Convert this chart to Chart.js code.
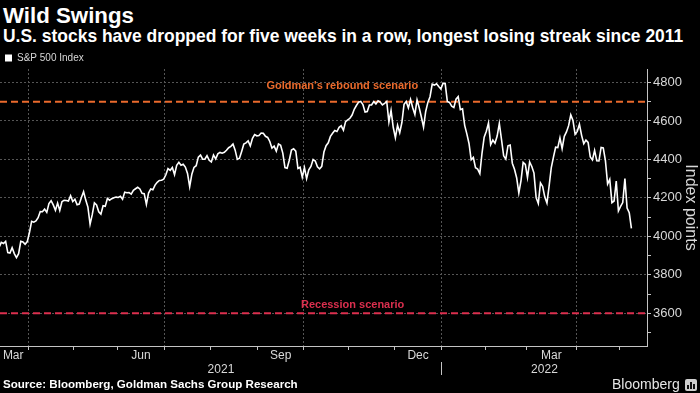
<!DOCTYPE html>
<html>
<head>
<meta charset="utf-8">
<script src="https://cdn.jsdelivr.net/npm/chart.js@4.4.1/dist/chart.umd.min.js"></script>
<style>
  html, body { margin: 0; padding: 0; background: #000; width: 700px; height: 393px; overflow: hidden; }
  body { position: relative; font-family: 'Liberation Sans', Arial, sans-serif; }
  .txt { position: absolute; white-space: nowrap; color: #fff; }
  #title { left: 3px; top: 5px; font-weight: bold; font-size: 22px; line-height: 22px; }
  #subtitle { left: 3px; top: 28px; font-weight: bold; font-size: 16px; line-height: 16px; }
  #source { left: 3px; top: 379px; font-weight: bold; font-size: 11px; line-height: 11px; }
  #brand { left: 612px; top: 377px; font-size: 14px; line-height: 14px; color: #e6e6e6; }
  #logo { position: absolute; left: 685px; top: 379px; width: 12px; height: 12px; border-radius: 2px;
          background:
            linear-gradient(#111,#111) 2px 6px/2px 4px no-repeat,
            linear-gradient(#111,#111) 5px 3px/2px 7px no-repeat,
            linear-gradient(#111,#111) 8px 5px/2px 5px no-repeat,
            #cfcfcf; }
  #wrap { position: absolute; left: 0; top: 48px; width: 700px; height: 345px; }
</style>
</head>
<body>
<div id="title" class="txt">Wild Swings</div>
<div id="subtitle" class="txt">U.S. stocks have dropped for five weeks in a row, longest losing streak since 2011</div>
<div id="wrap"><canvas id="chart" width="700" height="345"></canvas></div>
<div id="source" class="txt">Source: Bloomberg, Goldman Sachs Group Research</div>
<div id="brand" class="txt">Bloomberg</div>
<div id="logo"></div>
<script>
// ---------------- DATA ----------------
const seriesName = 'S&P 500 Index';

// Trading days shown on the chart (the x axis is a trading-day axis)
const dates = [
  "2021-03-12","2021-03-15","2021-03-16","2021-03-17","2021-03-18","2021-03-19","2021-03-22","2021-03-23","2021-03-24","2021-03-25","2021-03-26","2021-03-29","2021-03-30","2021-03-31",
  "2021-04-01","2021-04-05","2021-04-06","2021-04-07","2021-04-08","2021-04-09","2021-04-12","2021-04-13","2021-04-14","2021-04-15","2021-04-16","2021-04-19","2021-04-20","2021-04-21","2021-04-22","2021-04-23","2021-04-26","2021-04-27","2021-04-28","2021-04-29","2021-04-30",
  "2021-05-03","2021-05-04","2021-05-05","2021-05-06","2021-05-07","2021-05-10","2021-05-11","2021-05-12","2021-05-13","2021-05-14","2021-05-17","2021-05-18","2021-05-19","2021-05-20","2021-05-21","2021-05-24","2021-05-25","2021-05-26","2021-05-27","2021-05-28",
  "2021-06-01","2021-06-02","2021-06-03","2021-06-04","2021-06-07","2021-06-08","2021-06-09","2021-06-10","2021-06-11","2021-06-14","2021-06-15","2021-06-16","2021-06-17","2021-06-18","2021-06-21","2021-06-22","2021-06-23","2021-06-24","2021-06-25","2021-06-28","2021-06-29","2021-06-30",
  "2021-07-01","2021-07-02","2021-07-06","2021-07-07","2021-07-08","2021-07-09","2021-07-12","2021-07-13","2021-07-14","2021-07-15","2021-07-16","2021-07-19","2021-07-20","2021-07-21","2021-07-22","2021-07-23","2021-07-26","2021-07-27","2021-07-28","2021-07-29","2021-07-30",
  "2021-08-02","2021-08-03","2021-08-04","2021-08-05","2021-08-06","2021-08-09","2021-08-10","2021-08-11","2021-08-12","2021-08-13","2021-08-16","2021-08-17","2021-08-18","2021-08-19","2021-08-20","2021-08-23","2021-08-24","2021-08-25","2021-08-26","2021-08-27","2021-08-30","2021-08-31",
  "2021-09-01","2021-09-02","2021-09-03","2021-09-07","2021-09-08","2021-09-09","2021-09-10","2021-09-13","2021-09-14","2021-09-15","2021-09-16","2021-09-17","2021-09-20","2021-09-21","2021-09-22","2021-09-23","2021-09-24","2021-09-27","2021-09-28","2021-09-29","2021-09-30",
  "2021-10-01","2021-10-04","2021-10-05","2021-10-06","2021-10-07","2021-10-08","2021-10-11","2021-10-12","2021-10-13","2021-10-14","2021-10-15","2021-10-18","2021-10-19","2021-10-20","2021-10-21","2021-10-22","2021-10-25","2021-10-26","2021-10-27","2021-10-28","2021-10-29",
  "2021-11-01","2021-11-02","2021-11-03","2021-11-04","2021-11-05","2021-11-08","2021-11-09","2021-11-10","2021-11-11","2021-11-12","2021-11-15","2021-11-16","2021-11-17","2021-11-18","2021-11-19","2021-11-22","2021-11-23","2021-11-24","2021-11-26","2021-11-29","2021-11-30",
  "2021-12-01","2021-12-02","2021-12-03","2021-12-06","2021-12-07","2021-12-08","2021-12-09","2021-12-10","2021-12-13","2021-12-14","2021-12-15","2021-12-16","2021-12-17","2021-12-20","2021-12-21","2021-12-22","2021-12-23","2021-12-27","2021-12-28","2021-12-29","2021-12-30","2021-12-31",
  "2022-01-03","2022-01-04","2022-01-05","2022-01-06","2022-01-07","2022-01-10","2022-01-11","2022-01-12","2022-01-13","2022-01-14","2022-01-18","2022-01-19","2022-01-20","2022-01-21","2022-01-24","2022-01-25","2022-01-26","2022-01-27","2022-01-28","2022-01-31",
  "2022-02-01","2022-02-02","2022-02-03","2022-02-04","2022-02-07","2022-02-08","2022-02-09","2022-02-10","2022-02-11","2022-02-14","2022-02-15","2022-02-16","2022-02-17","2022-02-18","2022-02-22","2022-02-23","2022-02-24","2022-02-25","2022-02-28",
  "2022-03-01","2022-03-02","2022-03-03","2022-03-04","2022-03-07","2022-03-08","2022-03-09","2022-03-10","2022-03-11","2022-03-14","2022-03-15","2022-03-16","2022-03-17","2022-03-18","2022-03-21","2022-03-22","2022-03-23","2022-03-24","2022-03-25","2022-03-28","2022-03-29","2022-03-30","2022-03-31",
  "2022-04-01","2022-04-04","2022-04-05","2022-04-06","2022-04-07","2022-04-08","2022-04-11","2022-04-12","2022-04-13","2022-04-14","2022-04-18","2022-04-19","2022-04-20","2022-04-21","2022-04-22","2022-04-25","2022-04-26","2022-04-27","2022-04-28","2022-04-29",
  "2022-05-02","2022-05-03","2022-05-04","2022-05-05","2022-05-06","2022-05-09"
];

const closes = [
  3943.34,3968.94,3962.71,3974.12,3915.46,3913.10,3940.59,3910.52,3889.14,3909.52,3974.54,3971.09,3958.55,3972.89,
  4019.87,4077.91,4073.94,4079.95,4097.17,4128.80,4127.99,4141.59,4124.66,4170.42,4185.47,4163.26,4134.94,4173.42,4134.98,4180.17,4187.62,4186.72,4183.18,4211.47,4181.17,
  4192.66,4164.66,4167.59,4201.62,4232.60,4188.43,4152.10,4063.04,4112.50,4173.85,4163.29,4127.83,4115.68,4159.12,4155.86,4197.05,4188.13,4195.99,4200.88,4204.11,
  4202.04,4208.12,4192.85,4229.89,4226.52,4227.26,4219.55,4239.18,4247.44,4255.15,4246.59,4223.70,4221.86,4166.45,4224.79,4246.44,4241.84,4266.49,4280.70,4290.61,4291.80,4297.50,
  4319.94,4352.34,4343.54,4358.13,4320.82,4369.55,4384.63,4369.21,4374.30,4360.03,4327.16,4258.49,4323.06,4358.69,4367.48,4411.79,4422.30,4401.46,4400.64,4419.15,4395.26,
  4387.16,4423.15,4402.66,4429.10,4436.52,4432.35,4436.75,4447.70,4460.83,4468.00,4479.71,4448.08,4400.27,4405.80,4441.67,4479.53,4486.23,4496.19,4470.00,4509.37,4528.79,4522.68,
  4524.09,4536.95,4535.43,4520.03,4514.07,4493.28,4458.58,4468.73,4443.05,4480.70,4473.75,4432.99,4357.73,4354.19,4395.64,4448.98,4455.48,4443.11,4352.63,4359.46,4307.54,
  4357.04,4300.46,4345.72,4363.55,4399.76,4391.34,4361.19,4350.65,4363.80,4438.26,4471.37,4486.46,4519.63,4536.19,4549.78,4544.90,4566.48,4574.79,4551.68,4596.42,4605.38,
  4613.67,4630.65,4660.57,4680.06,4697.53,4701.70,4685.25,4646.71,4649.27,4682.85,4682.80,4700.90,4688.67,4704.54,4697.96,4682.94,4690.70,4701.46,4594.62,4655.27,4567.00,
  4513.04,4577.10,4538.43,4591.67,4686.75,4701.21,4667.45,4712.02,4668.97,4634.09,4709.85,4668.67,4620.64,4568.02,4649.23,4696.56,4725.79,4791.19,4786.35,4793.06,4778.73,4766.18,
  4796.56,4793.54,4700.58,4696.05,4677.03,4670.29,4713.07,4726.35,4659.03,4662.85,4577.11,4532.76,4482.73,4397.94,4410.13,4356.45,4349.93,4326.51,4431.85,4515.55,
  4546.54,4589.38,4477.44,4500.53,4483.87,4521.54,4587.18,4504.08,4418.64,4401.67,4471.07,4475.01,4380.26,4348.87,4304.76,4225.50,4288.70,4384.65,4373.94,
  4306.26,4386.54,4363.49,4328.87,4201.09,4170.70,4277.88,4259.52,4204.31,4173.11,4262.45,4357.86,4411.67,4463.12,4461.18,4511.61,4456.24,4520.16,4543.06,4575.52,4631.60,4602.45,4530.41,
  4545.86,4582.64,4525.12,4481.15,4500.21,4488.28,4412.53,4397.45,4446.59,4392.59,4391.69,4462.21,4459.45,4393.66,4271.78,4296.12,4175.20,4183.96,4287.50,4131.93,
  4155.38,4175.48,4300.17,4146.87,4123.34,4042
];

// Scenario levels
const reboundLevel = 4700;
const recessionLevel = 3600;
const scenarioNames = ["Goldman's rebound scenario", "Recession scenario"];

// Axis ticks and labels
const yTickValues = [3500,3600,3700,3800,3900,4000,4100,4200,4300,4400,4500,4600,4700,4800];
const yLabelValues = [3600,3800,4000,4200,4400,4600,4800];
const monthNames = ['Jan','Feb','Mar','Apr','May','Jun','Jul','Aug','Sep','Oct','Nov','Dec'];
const labeledMonths = ['Mar','Jun','Sep','Dec'];
const gridMonths = ['Jan','Apr','Jul','Oct'];
const yAxisTitle = 'Index points';

// ---------------- STYLE ----------------
const FONT = "'Liberation Sans', Arial, sans-serif";
const TXT = '#d8d8d8';
const AXIS = '#c4c4c4';
const GRID = '#555555';
const ORANGE = '#ea6a2c';
const RED = '#db2f4e';
const CLEAR = 'rgba(0,0,0,0)';

// x range in trading-day index units
const xMin = 0.4, xMax = 299.2;

// ---------------- DERIVED ----------------
const pts = closes.map((v, i) => ({ x: i, y: v }));

// month groups
const groups = [];
dates.forEach((d, i) => {
  const key = d.slice(0, 7);
  if (!groups.length || groups[groups.length - 1].key !== key) {
    groups.push({ key, year: d.slice(0, 4), month: monthNames[+d.slice(5, 7) - 1], start: i, end: i });
  } else groups[groups.length - 1].end = i;
});
const monthBoundaries = groups.slice(1).map(g => ({ value: g.start - 0.5, grid: gridMonths.includes(g.month) }));
const monthLabelTicks = groups.filter(g => labeledMonths.includes(g.month))
  .map(g => ({ value: (g.start + g.end) / 2, label: g.month }));
const yearBoundary = groups.find(g => g.year === '2022').start - 0.5;
const yearTicks = [
  { value: (xMin + yearBoundary) / 2, label: '2021', sep: false },
  { value: yearBoundary, label: '', sep: true },
  { value: (yearBoundary + xMax) / 2, label: '2022', sep: false }
];

// ---------------- TEXT FIT ----------------
function fitWidth(id, target) {
  const el = document.getElementById(id);
  const fs = parseFloat(getComputedStyle(el).fontSize);
  const w = el.getBoundingClientRect().width;
  el.style.fontSize = (fs * target / w).toFixed(2) + 'px';
}
fitWidth('title', 131);
fitWidth('subtitle', 681);
fitWidth('source', 295);

// ---------------- PLUGINS ----------------
const legendFit = {
  id: 'legendFit',
  beforeInit(chart) {
    const lg = chart.legend;
    if (!lg) return;
    const orig = lg.fit;
    lg.fit = function () { orig.call(this); this.height -= 4; };
  }
};

const scenarioLabels = {
  id: 'scenarioLabels',
  afterDatasetsDraw(chart) {
    const y = chart.scales.y, a = chart.chartArea, c = chart.ctx;
    const items = [
      { text: scenarioNames[0], level: reboundLevel, color: ORANGE, fx: 0.529, dy: -16 },
      { text: scenarioNames[1], level: recessionLevel, color: RED, fx: 0.545, dy: -8.5 }
    ];
    c.save();
    c.font = 'bold 11px ' + FONT;
    c.textAlign = 'center';
    c.textBaseline = 'middle';
    items.forEach(it => {
      c.fillStyle = it.color;
      c.fillText(it.text, a.left + a.width * it.fx, y.getPixelForValue(it.level) + it.dy);
    });
    c.restore();
  }
};

// ---------------- CHART ----------------
Chart.defaults.font.family = FONT;
new Chart(document.getElementById('chart'), {
  type: 'line',
  data: {
    datasets: [
      { label: seriesName, data: pts, borderColor: '#ffffff', backgroundColor: '#ffffff', borderWidth: 1.6,
        pointRadius: 0, tension: 0, xAxisID: 'x', yAxisID: 'y' },
      { label: scenarioNames[0], data: [{ x: xMin, y: reboundLevel }, { x: xMax, y: reboundLevel }],
        borderColor: ORANGE, borderWidth: 2, borderDash: [7, 4], pointRadius: 0, xAxisID: 'x', yAxisID: 'y' },
      { label: scenarioNames[1], data: [{ x: xMin, y: recessionLevel }, { x: xMax, y: recessionLevel }],
        borderColor: RED, borderWidth: 2, borderDash: [7, 4], pointRadius: 0, xAxisID: 'x', yAxisID: 'y' }
    ]
  },
  options: {
    responsive: false,
    animation: false,
    events: [],
    layout: { padding: { top: 0, left: 0, right: 0, bottom: 15 }, autoPadding: false },
    plugins: {
      legend: {
        display: true, position: 'top', align: 'start',
        labels: {
          boxWidth: 7, boxHeight: 7, padding: 5, color: TXT, font: { size: 10 },
          generateLabels: () => [{ text: seriesName, fillStyle: '#ffffff', strokeStyle: '#ffffff', lineWidth: 0,
                                   hidden: false, datasetIndex: 0, fontColor: TXT }]
        }
      },
      tooltip: { enabled: false }
    },
    scales: {
      x: {
        type: 'linear', position: 'bottom', min: xMin, max: xMax, weight: 0,
        afterBuildTicks: ax => { ax.ticks = monthBoundaries.map(b => ({ value: b.value })); },
        afterFit: ax => { ax.height = 4; },
        ticks: { display: false },
        grid: {
          display: true, drawOnChartArea: true, drawTicks: true, tickLength: 4, tickWidth: 1, tickColor: AXIS, lineWidth: 1,
          color: c => (c.tick && monthBoundaries.find(b => b.value === c.tick.value && b.grid)) ? GRID : CLEAR
        },
        border: { display: true, color: AXIS, width: 1, dash: [2, 2] }
      },
      xMonths: {
        type: 'linear', position: 'bottom', min: xMin, max: xMax, weight: 1,
        afterBuildTicks: ax => { ax.ticks = monthLabelTicks.map(t => ({ value: t.value })); },
        afterFit: ax => { ax.height = 12; },
        grid: { display: false, drawTicks: false, drawOnChartArea: false },
        border: { display: false },
        ticks: {
          autoSkip: false, maxRotation: 0, minRotation: 0, padding: -2, color: TXT, font: { size: 12 },
          callback: v => { const t = monthLabelTicks.find(m => m.value === v); return t ? t.label : ''; }
        }
      },
      xYears: {
        type: 'linear', position: 'bottom', min: xMin, max: xMax, weight: 2,
        afterBuildTicks: ax => { ax.ticks = yearTicks.map(t => ({ value: t.value })); },
        afterFit: ax => { ax.height = 16; },
        grid: {
          display: true, drawOnChartArea: false, drawTicks: true, tickLength: 13, tickWidth: 1,
          tickColor: c => (c.tick && yearTicks.find(t => t.value === c.tick.value && t.sep)) ? AXIS : CLEAR
        },
        border: { display: false },
        ticks: {
          autoSkip: false, maxRotation: 0, minRotation: 0, padding: -13, color: TXT, font: { size: 12 },
          callback: v => { const t = yearTicks.find(m => m.value === v); return t ? t.label : ''; }
        }
      },
      y: {
        type: 'linear', position: 'right', min: 3430, max: 4870,
        afterBuildTicks: ax => { ax.ticks = yTickValues.map(v => ({ value: v })); },
        afterFit: ax => { ax.width = 53; },
        ticks: { color: TXT, font: { size: 13 }, padding: 2,
                 callback: v => yLabelValues.includes(v) ? String(v) : '' },
        grid: {
          display: true, drawOnChartArea: true, drawTicks: true, tickLength: 4, tickWidth: 1, tickColor: AXIS, lineWidth: 1,
          color: c => (c.tick && yLabelValues.includes(c.tick.value)) ? GRID : CLEAR
        },
        border: { display: true, color: AXIS, width: 1, dash: [2, 2] },
        title: { display: true, text: yAxisTitle, color: TXT, font: { size: 16 }, padding: 0 }
      }
    }
  },
  plugins: [legendFit, scenarioLabels]
});
</script>
</body>
</html>
